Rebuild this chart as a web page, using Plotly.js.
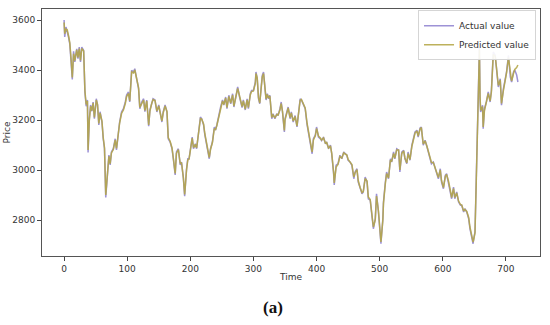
<!DOCTYPE html>
<html>
<head>
<meta charset="utf-8">
<script src="https://cdn.plot.ly/plotly-3.0.1.min.js"></script>
<style>
  html, body { margin: 0; padding: 0; background: #fff; }
  #chart { width: 550px; height: 325px; }
</style>
</head>
<body>
<div id="chart"></div>
<script>
// values
var time = [0, 1, 3, 5, 7, 9, 11, 13, 15, 17, 20, 22, 24, 26, 28, 29, 31, 33, 35, 37, 38, 40, 42, 44, 46, 48,
  51, 53, 55, 57, 60, 62, 64, 66, 69, 71, 73, 75, 78, 81, 83, 86, 88, 91, 94, 97, 99, 102, 104, 107, 110,
  112, 115, 118, 120, 123, 126, 128, 131, 134, 136, 139, 141, 144, 147, 150, 152, 155, 157, 160, 163, 165,
  168, 171, 173, 176, 178, 181, 184, 186, 189, 191, 194, 196, 198, 201, 203, 205, 208, 210, 213, 216, 218,
  221, 223, 226, 228, 230, 232, 235, 238, 240, 242, 246, 248, 251, 253, 256, 258, 261, 264, 267, 269, 273,
  275, 278, 280, 282, 284, 287, 290, 292, 295, 297, 300, 303, 304, 306, 308, 310, 312, 314, 316, 318, 320,
  322, 324, 326, 329, 331, 334, 337, 339, 342, 344, 346, 349, 350, 353, 355, 358, 360, 363, 366, 369, 371,
  374, 376, 379, 382, 385, 387, 390, 393, 395, 398, 400, 403, 406, 408, 411, 414, 416, 419, 422, 424, 427,
  428, 431, 434, 437, 440, 443, 445, 448, 450, 453, 456, 459, 461, 464, 466, 469, 472, 474, 477, 480, 482,
  485, 487, 490, 493, 495, 498, 501, 502, 505, 506, 509, 511, 514, 517, 519, 522, 524, 527, 530, 532, 535,
  538, 540, 543, 545, 548, 551, 553, 556, 559, 561, 564, 566, 569, 572, 575, 577, 580, 582, 585, 588, 590,
  593, 596, 598, 601, 604, 606, 609, 612, 614, 617, 619, 622, 625, 628, 630, 633, 635, 638, 641, 643, 646,
  648, 649, 651, 653, 656, 658, 659, 660, 663, 664, 666, 669, 672, 675, 677, 680, 683, 685, 688, 691, 693,
  696, 699, 701, 704, 707, 709, 712, 714, 717, 719];

var actual = [3600, 3532, 3572, 3555, 3532, 3505, 3440, 3362, 3475, 3432, 3485, 3445, 3492, 3432, 3492, 3485, 3478, 3310, 3255, 3280, 3070, 3205, 3260, 3235, 3272, 3205,
  3285, 3260, 3180, 3233, 3192, 3125, 3085, 2890, 2992, 3060, 3020, 3072, 3085, 3125, 3080, 3160, 3192, 3232, 3245, 3272, 3300, 3312, 3272, 3399, 3392,
  3405, 3365, 3325, 3245, 3272, 3285, 3233, 3280, 3175, 3240, 3272, 3285, 3280, 3232, 3260, 3232, 3192, 3232, 3260, 3232, 3125,
  3112, 3085, 3045, 2980, 3072, 3085, 3020, 3032, 2965, 2895, 3005, 3045, 3045, 3100, 3132, 3085, 3105, 3085, 3152, 3212, 3205,
  3180, 3140, 3100, 3072, 3045, 3085, 3112, 3172, 3160, 3180, 3232, 3252, 3280, 3260, 3292, 3245, 3299, 3265, 3305, 3252, 3305,
  3332, 3292, 3265, 3250, 3280, 3240, 3285, 3245, 3305, 3318, 3318, 3352, 3392, 3365, 3285, 3265, 3325, 3378, 3392, 3325, 3280,
  3305, 3285, 3299, 3205, 3225, 3205, 3225, 3218, 3245, 3272, 3232, 3152, 3205, 3232, 3252, 3205, 3232, 3192, 3218, 3172, 3225,
  3285, 3280, 3260, 3245, 3180, 3152, 3112, 3065, 3125, 3140, 3172, 3132, 3125, 3118, 3132, 3105, 3112, 3085, 3100, 3065, 2985,
  2940, 3019, 3025, 3059, 3045, 3072, 3065, 3059, 3039, 3032, 3019, 2965, 2992, 3005, 2952, 2925, 2905, 2912, 2972, 2952, 2885,
  2879, 2832, 2765, 2805, 2905, 2832, 2752, 2705, 2805, 2872, 2952, 2992, 2965, 3045, 3032, 3072, 3045, 3085, 3079, 2992, 3072,
  3079, 3045, 3025, 3072, 3039, 3099, 3125, 3152, 3159, 3132, 3168, 3172, 3099, 3119, 3092, 3072, 3045, 3025, 3032, 3005, 2992,
  2965, 3005, 2952, 2925, 2979, 2985, 2952, 2912, 2885, 2932, 2885, 2912, 2872, 2859, 2859, 2832, 2845, 2832, 2805, 2765, 2725,
  2705, 2725, 2752, 2965, 3232, 3490, 3285, 3232, 3259, 3165, 3245, 3272, 3312, 3272, 3318, 3472, 3459, 3405, 3332, 3365, 3259,
  3325, 3365, 3392, 3459, 3372, 3352, 3392, 3400, 3380, 3352];

var predicted = [3590, 3545, 3565, 3560, 3538, 3510, 3448, 3370, 3465, 3438, 3480, 3450, 3486, 3438, 3486, 3483, 3476, 3318, 3262, 3276, 3080, 3200, 3255, 3238, 3268, 3210,
  3280, 3262, 3186, 3228, 3196, 3130, 3090, 2900, 2985, 3055, 3025, 3068, 3082, 3120, 3086, 3155, 3188, 3226, 3240, 3266, 3294, 3306, 3276, 3392, 3388,
  3400, 3368, 3330, 3250, 3268, 3280, 3238, 3276, 3180, 3236, 3268, 3282, 3278, 3236, 3256, 3234, 3196, 3228, 3256, 3234, 3130,
  3115, 3088, 3050, 2986, 3066, 3082, 3026, 3030, 2970, 2902, 3000, 3040, 3044, 3095, 3128, 3090, 3102, 3088, 3148, 3206, 3204,
  3184, 3145, 3104, 3076, 3050, 3082, 3110, 3166, 3162, 3178, 3226, 3248, 3276, 3262, 3288, 3250, 3294, 3268, 3300, 3256, 3300,
  3326, 3296, 3268, 3254, 3276, 3244, 3280, 3250, 3300, 3314, 3316, 3346, 3386, 3368, 3290, 3268, 3320, 3372, 3386, 3330, 3284,
  3302, 3288, 3296, 3210, 3222, 3208, 3222, 3220, 3240, 3266, 3236, 3158, 3200, 3228, 3248, 3210, 3228, 3196, 3214, 3176, 3220,
  3278, 3282, 3262, 3248, 3186, 3156, 3116, 3072, 3120, 3136, 3166, 3136, 3128, 3120, 3128, 3108, 3110, 3088, 3096, 3068, 2992,
  2948, 3012, 3022, 3054, 3048, 3068, 3066, 3060, 3042, 3034, 3022, 2972, 2988, 3002, 2958, 2930, 2910, 2914, 2966, 2956, 2892,
  2882, 2838, 2772, 2800, 2896, 2838, 2760, 2712, 2798, 2866, 2946, 2986, 2968, 3040, 3034, 3066, 3048, 3080, 3080, 3000, 3066,
  3076, 3048, 3028, 3066, 3042, 3094, 3120, 3148, 3156, 3136, 3164, 3170, 3104, 3116, 3094, 3076, 3050, 3030, 3030, 3010, 2996,
  2970, 3000, 2958, 2930, 2974, 2982, 2956, 2918, 2890, 2926, 2890, 2908, 2876, 2862, 2860, 2836, 2842, 2834, 2810, 2772, 2732,
  2712, 2722, 2748, 2950, 3215, 3480, 3295, 3238, 3254, 3172, 3238, 3268, 3306, 3276, 3312, 3462, 3455, 3410, 3338, 3360, 3266,
  3318, 3360, 3388, 3450, 3378, 3356, 3386, 3402, 3410, 3420];

var xTicks = [0, 100, 200, 300, 400, 500, 600, 700];
var yTicks = [2800, 3000, 3200, 3400, 3600];

var trace1 = {
  x: time,
  y: actual,
  name: "Actual value",
  type: "scatter",
  mode: "lines",
  line: { color: "#9d92d6", width: 1.5 },
};

var trace2 = {
  x: time,
  y: predicted,
  name: "Predicted value",
  type: "scatter",
  mode: "lines",
  line: { color: "rgba(180,166,70,0.88)", width: 1.5 },
};

var tickFont = { family: "DejaVu Sans", size: 9, color: "#333" };

var layout = {
  width: 550,
  height: 325,
  margin: { l: 42, r: 10, t: 9, b: 69 },
  paper_bgcolor: "#fff",
  plot_bgcolor: "#fff",
  showlegend: true,
  legend: {
    x: 0.992, y: 0.995, xanchor: "right", yanchor: "top",
    bgcolor: "rgba(255,255,255,0.9)", bordercolor: "#d5d5d5", borderwidth: 1,
    font: { family: "DejaVu Sans", size: 9, color: "#333" },
    tracegroupgap: 0,
  },
  xaxis: {
    range: [-35, 754],
    tickvals: xTicks,
    ticks: "outside", ticklen: 4, tickcolor: "#444",
    showline: true, mirror: true, linecolor: "#555", linewidth: 1,
    showgrid: false, zeroline: false,
    tickfont: tickFont,
    title: { text: "Time", font: { family: "DejaVu Sans", size: 9, color: "#333" }, standoff: 0 },
  },
  yaxis: {
    range: [2656, 3644],
    tickvals: yTicks,
    ticks: "outside", ticklen: 4, tickcolor: "#444",
    showline: true, mirror: true, linecolor: "#555", linewidth: 1,
    showgrid: false, zeroline: false,
    tickfont: tickFont,
    title: { text: "Price", font: { family: "DejaVu Sans", size: 9, color: "#333" }, standoff: 0 },
  },
  annotations: [{
    text: "<b>(a)</b>",
    xref: "paper", yref: "paper",
    x: 0.464, y: -0.21,
    xanchor: "center", yanchor: "middle",
    showarrow: false,
    font: { family: "Liberation Serif", size: 17, color: "#111" },
  }],
};

Plotly.newPlot("chart", [trace1, trace2], layout, { displayModeBar: false });
</script>
</body>
</html>
